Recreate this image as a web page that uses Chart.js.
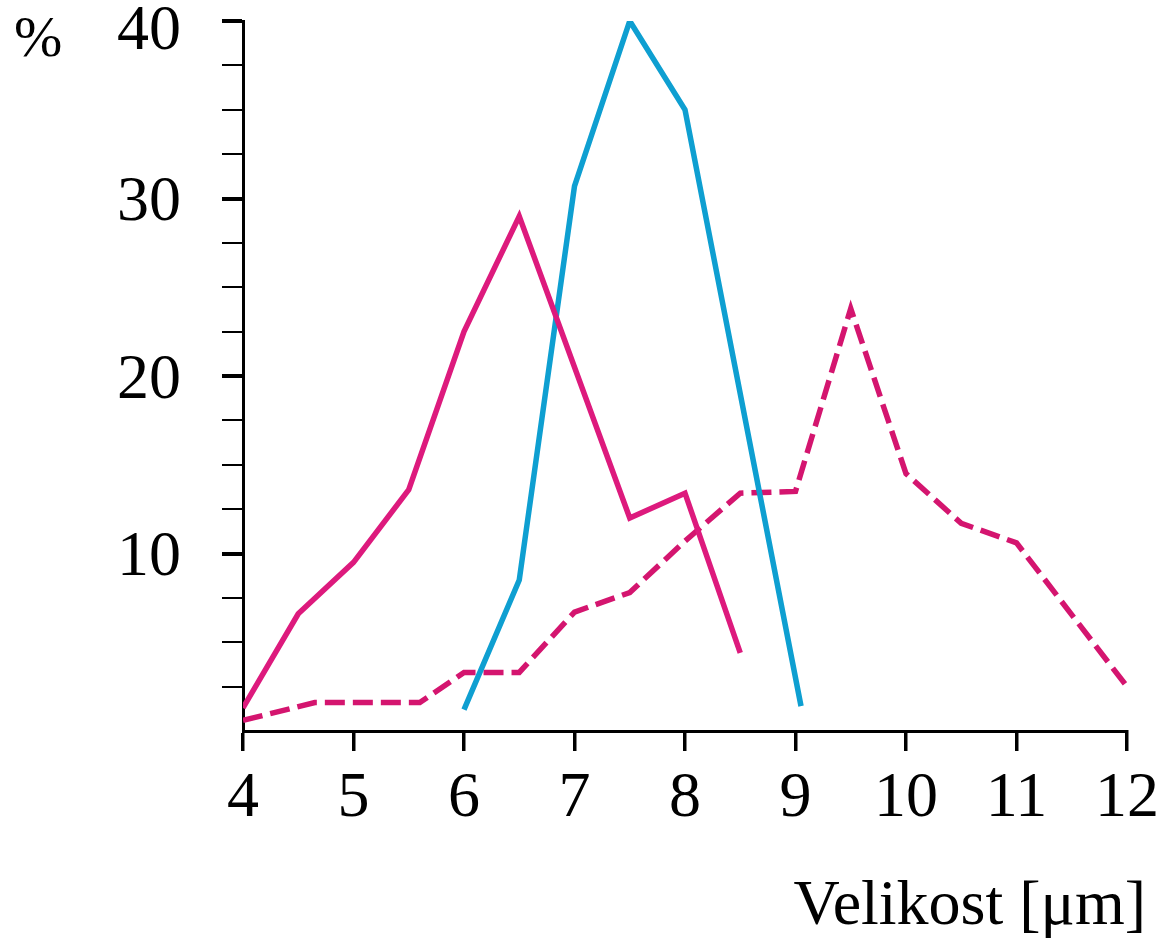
<!DOCTYPE html>
<html>
<head>
<meta charset="utf-8">
<script src="https://cdn.jsdelivr.net/npm/chart.js@4.4.1/dist/chart.umd.min.js"></script>
<style>
  html, body { margin: 0; padding: 0; background: #fff; }
  #wrap { width: 1169px; height: 941px; }
</style>
</head>
<body>
<div id="wrap"><canvas id="chart" width="1169" height="941"></canvas></div>
<script>
/* =========================
   DATA
========================= */

// solid magenta curve
const solidX = [4, 4.5, 5, 5.5, 6, 6.5, 7.5, 8, 8.5];
const solidY = [1.3, 6.6, 9.5, 13.6, 22.5, 29, 12, 13.4, 4.4];

// blue curve
const blueX = [6, 6.5, 7, 7.5, 8, 9.05];
const blueY = [1.2, 8.5, 30.7, 40, 35, 1.4];

// dashed magenta curve
const dashedX = [4, 4.65, 5.6, 6, 6.5, 7, 7.5, 8, 8.5, 9, 9.5, 10, 10.5, 11, 12];
const dashedY = [0.6, 1.6, 1.6, 3.3, 3.3, 6.7, 7.8, 10.7, 13.4, 13.5, 23.8, 14.5, 11.7, 10.6, 2.5];

const yLabels = [10, 20, 30, 40];
const yUnit = "%";
const xTitle = "Velikost [μm]";

const FONT = "'Liberation Serif', 'DejaVu Serif', serif";

function toPoints(xs, ys) {
  return xs.map((x, i) => ({ x, y: ys[i] }));
}

/* =========================
   EXTRA TEXT (y labels, unit, x title)
========================= */

const textPlugin = {
  id: "textPlugin",
  afterDraw(chart) {
    const ctx = chart.ctx;
    const y = chart.scales.y;
    ctx.save();
    ctx.fillStyle = "#000";
    ctx.font = `64px ${FONT}`;
    ctx.textAlign = "right";
    ctx.textBaseline = "middle";
    yLabels.forEach(v => {
      const py = Math.max(y.getPixelForValue(v) + 5, 32);
      ctx.fillText(String(v), 181, py);
    });

    ctx.textAlign = "left";
    ctx.textBaseline = "alphabetic";
    ctx.font = `58px ${FONT}`;
    ctx.fillText(yUnit, 14, 56);

    ctx.textAlign = "right";
    ctx.font = `64px ${FONT}`;
    ctx.fillText(xTitle, 1146, 924);
    ctx.restore();
  }
};

/* =========================
   CHART
========================= */

new Chart(document.getElementById("chart"), {
  type: "line",
  data: {
    datasets: [
      {
        label: "solid",
        data: toPoints(solidX, solidY),
        borderColor: "#dd1a7d",
        borderWidth: 5.5,
        pointRadius: 0,
        tension: 0
      },
      {
        label: "blue",
        data: toPoints(blueX, blueY),
        borderColor: "#0e9fd1",
        borderWidth: 5.5,
        pointRadius: 0,
        tension: 0
      },
      {
        label: "dashed",
        data: toPoints(dashedX, dashedY),
        borderColor: "#d4156f",
        borderWidth: 5.5,
        borderDash: [20, 8],
        pointRadius: 0,
        tension: 0
      }
    ]
  },
  options: {
    responsive: false,
    animation: false,
    layout: { padding: { top: 21, right: 41, left: 0, bottom: 0 } },
    plugins: {
      legend: { display: false },
      tooltip: { enabled: false }
    },
    scales: {
      x: {
        type: "linear",
        min: 4,
        max: 12,
        ticks: {
          stepSize: 1,
          color: "#000",
          padding: 10,
          font: { family: FONT, size: 64 }
        },
        grid: {
          drawOnChartArea: false,
          drawTicks: true,
          tickLength: 20,
          color: "#000",
          lineWidth: 3.5
        },
        border: { display: true, color: "#000", width: 3 },
        afterFit: s => { s.height = 210; }
      },
      y: {
        min: 0,
        max: 40,
        ticks: { stepSize: 2.5, display: false },
        grid: {
          drawOnChartArea: false,
          drawTicks: true,
          tickLength: 21,
          color: c => (c.tick && c.tick.value === 0) ? "rgba(0,0,0,0)" : "#000",
          lineWidth: c => (c.tick && c.tick.value % 10 === 0) ? 4 : 2
        },
        border: { display: true, color: "#000", width: 3 },
        afterFit: s => { s.width = 243; }
      }
    }
  },
  plugins: [textPlugin]
});
</script>
</body>
</html>
